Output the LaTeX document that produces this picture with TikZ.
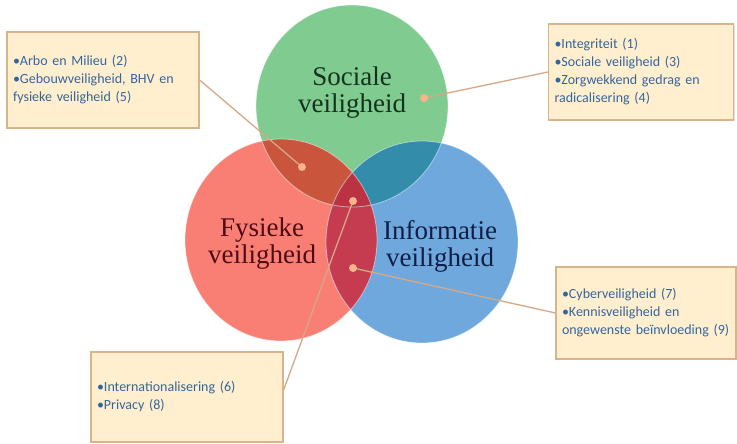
\documentclass[tikz,border=0pt]{standalone}
\usepackage{fontspec}
\setmainfont{Liberation Serif}
\newfontfamily\boxfont{Carlito}
\usepackage{xcolor}
\usetikzlibrary{positioning,calc,shadows}

\definecolor{socgreen}{HTML}{80CB8F}
\definecolor{fysred}{HTML}{F97F74}
\definecolor{infblue}{HTML}{6FA8DC}
\definecolor{rgmix}{HTML}{C8553C}
\definecolor{gbmix}{HTML}{328CAA}
\definecolor{rbmix}{HTML}{C53C50}
\definecolor{allmix}{HTML}{BB3343}
\definecolor{boxfill}{HTML}{FFEFCF}
\definecolor{boxedge}{HTML}{D8B48A}
\definecolor{boxtext}{HTML}{35659C}
\definecolor{dotcol}{HTML}{F6B58A}
\definecolor{linecol}{HTML}{D6A886}

\begin{document}
\begin{tikzpicture}[x=1pt,y=-1pt,
    ring/.style={x radius=96pt,y radius=101pt},
    infobox/.style={draw=boxedge,line width=1.2pt,fill=boxfill,align=left,
        inner xsep=6pt,text=boxtext,font=\boxfont\fontsize{14}{18}\selectfont,
        drop shadow={shadow xshift=1.2pt,shadow yshift=-1.2pt,opacity=0.25}},
    dot/.style={circle,fill=dotcol,inner sep=0pt,minimum size=8pt},
    link/.style={linecol,line width=1.3pt},
    biglabel/.style={align=center,font=\fontsize{27}{27}\selectfont}]
    \useasboundingbox (0,0) rectangle (737,444);

    % circles
    \coordinate (soc) at (352,106);
    \coordinate (fys) at (281,240);
    \coordinate (inf) at (422,242);
    \fill[socgreen] (soc) ellipse [ring];
    \fill[fysred] (fys) ellipse [ring];
    \fill[infblue] (inf) ellipse [ring];

    % overlaps
    \begin{scope}
        \clip (fys) ellipse [ring];
        \fill[rgmix] (soc) ellipse [ring];
        \fill[rbmix] (inf) ellipse [ring];
    \end{scope}
    \begin{scope}
        \clip (soc) ellipse [ring];
        \fill[gbmix] (inf) ellipse [ring];
    \end{scope}
    \begin{scope}
        \clip (soc) ellipse [ring];
        \clip (fys) ellipse [ring];
        \fill[allmix] (inf) ellipse [ring];
    \end{scope}
    \draw[white,opacity=0.5,line width=0.8pt] (soc) ellipse [ring] (fys) ellipse [ring] (inf) ellipse [ring];

    % circle labels
    \node[biglabel,text={rgb,255:red,20;green,50;blue,30}] (soclabel) at (352,93) {Sociale\\veiligheid};
    \node[biglabel,text={rgb,255:red,80;green,10;blue,20}] (fyslabel) at (262,244) {Fysieke\\veiligheid};
    \node[biglabel,text={rgb,255:red,15;green,30;blue,70}] (inflabel) at (440,246) {Informatie\\veiligheid};

    % boxes
    \node[infobox,text width=180pt,minimum height=96pt] (arbobox) at (103,80)
        {•Arbo en Milieu (2)\\•Gebouwveiligheid, BHV en\\fysieke veiligheid (5)};
    \node[infobox,text width=173pt,minimum height=96pt] (integbox) at (641,72)
        {•Integriteit (1)\\•Sociale veiligheid (3)\\•Zorgwekkend gedrag en\\radicalisering (4)};
    \node[infobox,text width=168pt,minimum height=92pt] (cyberbox) at (646,313)
        {•Cyberveiligheid (7)\\•Kennisveiligheid en\\ongewenste beïnvloeding (9)};
    \node[infobox,text width=180pt,minimum height=90pt] (privbox) at (187,397)
        {•Internationalisering (6)\\•Privacy (8)};

    % links
    \coordinate (socpt) at (424,98);
    \coordinate (rgpt) at (302,167);
    \coordinate (allpt) at (353,201);
    \coordinate (rbpt) at (353,268);
    \draw[link] (socpt) -- (integbox.west);
    \draw[link] (rgpt) -- (arbobox.east);
    \draw[link] (allpt) -- ($(privbox.east)+(0,-7)$);
    \draw[link] (rbpt) -- (cyberbox.west);

    % dots
    \node[dot] (socdot) at (socpt) {};
    \node[dot] (rgdot) at (rgpt) {};
    \node[dot] (alldot) at (allpt) {};
    \node[dot] (rbdot) at (rbpt) {};
\end{tikzpicture}
\end{document}
